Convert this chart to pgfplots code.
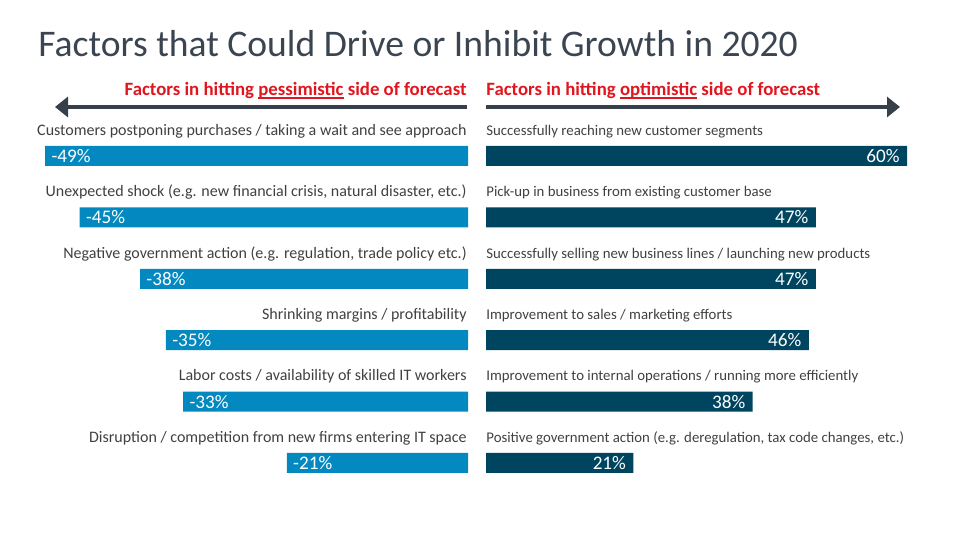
\documentclass[border=0pt]{standalone}
\usepackage{fontspec}
\setmainfont{Carlito}
\usepackage{pgfplots}
\pgfplotsset{compat=1.18}
\usetikzlibrary{arrows.meta}
\definecolor{lblue}{RGB}{3,137,192}
\definecolor{dteal}{RGB}{0,69,96}
\definecolor{hred}{RGB}{224,22,30}
\definecolor{titlec}{RGB}{59,69,82}
\definecolor{txtc}{RGB}{64,64,64}
\definecolor{arrc}{RGB}{54,64,74}
\newcommand{\redul}[1]{\setbox0\hbox{#1}\rlap{\color{hred}\rule[-1.4pt]{\wd0}{0.7pt}}#1}
\begin{document}
\begin{tikzpicture}
\useasboundingbox (0,0) rectangle (480pt,270pt);
% title
\node[anchor=base west, inner sep=0, text=titlec, font=\fontsize{18.8pt}{22pt}\selectfont] at (19pt,241.5pt) {Factors that Could Drive or Inhibit Growth in 2020};
% headers
\node[anchor=base east, inner sep=0, text=hred, font=\fontsize{9.4pt}{11pt}\selectfont\bfseries] at (233.5pt,222pt) {Factors in hitting \redul{pessimistic} side of forecast};
\node[anchor=base west, inner sep=0, text=hred, font=\fontsize{9.4pt}{11pt}\selectfont\bfseries] at (243pt,222pt) {Factors in hitting \redul{optimistic} side of forecast};
% arrows
\draw[arrc, line width=2pt, -{Triangle[length=6.5pt,width=10pt]}] (233.5pt,216.5pt) -- (27.5pt,216.5pt);
\draw[arrc, line width=2pt, -{Triangle[length=6.5pt,width=10pt]}] (243pt,216.5pt) -- (450pt,216.5pt);

\begin{axis}[
  at={(234pt,207.35pt)}, anchor=north east,
  scale only axis, width=215.75pt, height=184.2pt,
  xmin=-50, xmax=0, ymin=-0.5, ymax=5.5, y dir=reverse,
  hide axis, clip=false,
  /pgf/number format/assume math mode=true,
]
\addplot[xbar, fill=lblue, draw=none, bar width=10pt,
  nodes near coords={\pgfmathprintnumber{\pgfplotspointmeta}\%},
  point meta=x,
  nodes near coords align=horizontal,
  every node near coord/.append style={anchor=west, xshift=3pt, text=white, font=\fontsize{9.6pt}{11pt}\selectfont, inner sep=0pt},
] coordinates {(-49,0) (-45,1) (-38,2) (-35,3) (-33,4) (-21,5)};
\begin{scope}[every node/.style={anchor=base east, inner sep=0, text=txtc, font=\fontsize{8pt}{9pt}\selectfont}]
\node at (axis cs:0,0) [yshift=10.3pt, xshift=-0.5pt] {Customers postponing purchases / taking a wait and see approach};
\node at (axis cs:0,1) [yshift=10.3pt, xshift=-0.5pt] {Unexpected shock (e.g. new financial crisis, natural disaster, etc.)};
\node at (axis cs:0,2) [yshift=10.3pt, xshift=-0.5pt] {Negative government action (e.g. regulation, trade policy etc.)};
\node at (axis cs:0,3) [yshift=10.3pt, xshift=-0.5pt] {Shrinking margins / profitability};
\node at (axis cs:0,4) [yshift=10.3pt, xshift=-0.5pt] {Labor costs / availability of skilled IT workers};
\node at (axis cs:0,5) [yshift=10.3pt, xshift=-0.5pt] {Disruption / competition from new firms entering IT space};
\end{scope}
\end{axis}

\begin{axis}[
  at={(243pt,207.35pt)}, anchor=north west,
  scale only axis, width=210.5pt, height=184.2pt,
  xmin=0, xmax=60, ymin=-0.5, ymax=5.5, y dir=reverse,
  hide axis, clip=false,
  /pgf/number format/assume math mode=true,
]
\addplot[xbar, fill=dteal, draw=none, bar width=10pt,
  nodes near coords={\pgfmathprintnumber{\pgfplotspointmeta}\%},
  point meta=x,
  nodes near coords align=horizontal,
  every node near coord/.append style={anchor=east, xshift=-3.5pt, text=white, font=\fontsize{9.6pt}{11pt}\selectfont, inner sep=0pt},
] coordinates {(60,0) (47,1) (47,2) (46,3) (38,4) (21,5)};
\begin{scope}[every node/.style={anchor=base west, inner sep=0, text=txtc, font=\fontsize{7.4pt}{8.5pt}\selectfont}]
\node at (axis cs:0,0) [yshift=10.3pt] {Successfully reaching new customer segments};
\node at (axis cs:0,1) [yshift=10.3pt] {Pick-up in business from existing customer base};
\node at (axis cs:0,2) [yshift=10.3pt] {Successfully selling new business lines / launching new products};
\node at (axis cs:0,3) [yshift=10.3pt] {Improvement to sales / marketing efforts};
\node at (axis cs:0,4) [yshift=10.3pt] {Improvement to internal operations / running more efficiently};
\node at (axis cs:0,5) [yshift=10.3pt] {Positive government action (e.g. deregulation, tax code changes, etc.)};
\end{scope}
\end{axis}
\end{tikzpicture}
\end{document}
